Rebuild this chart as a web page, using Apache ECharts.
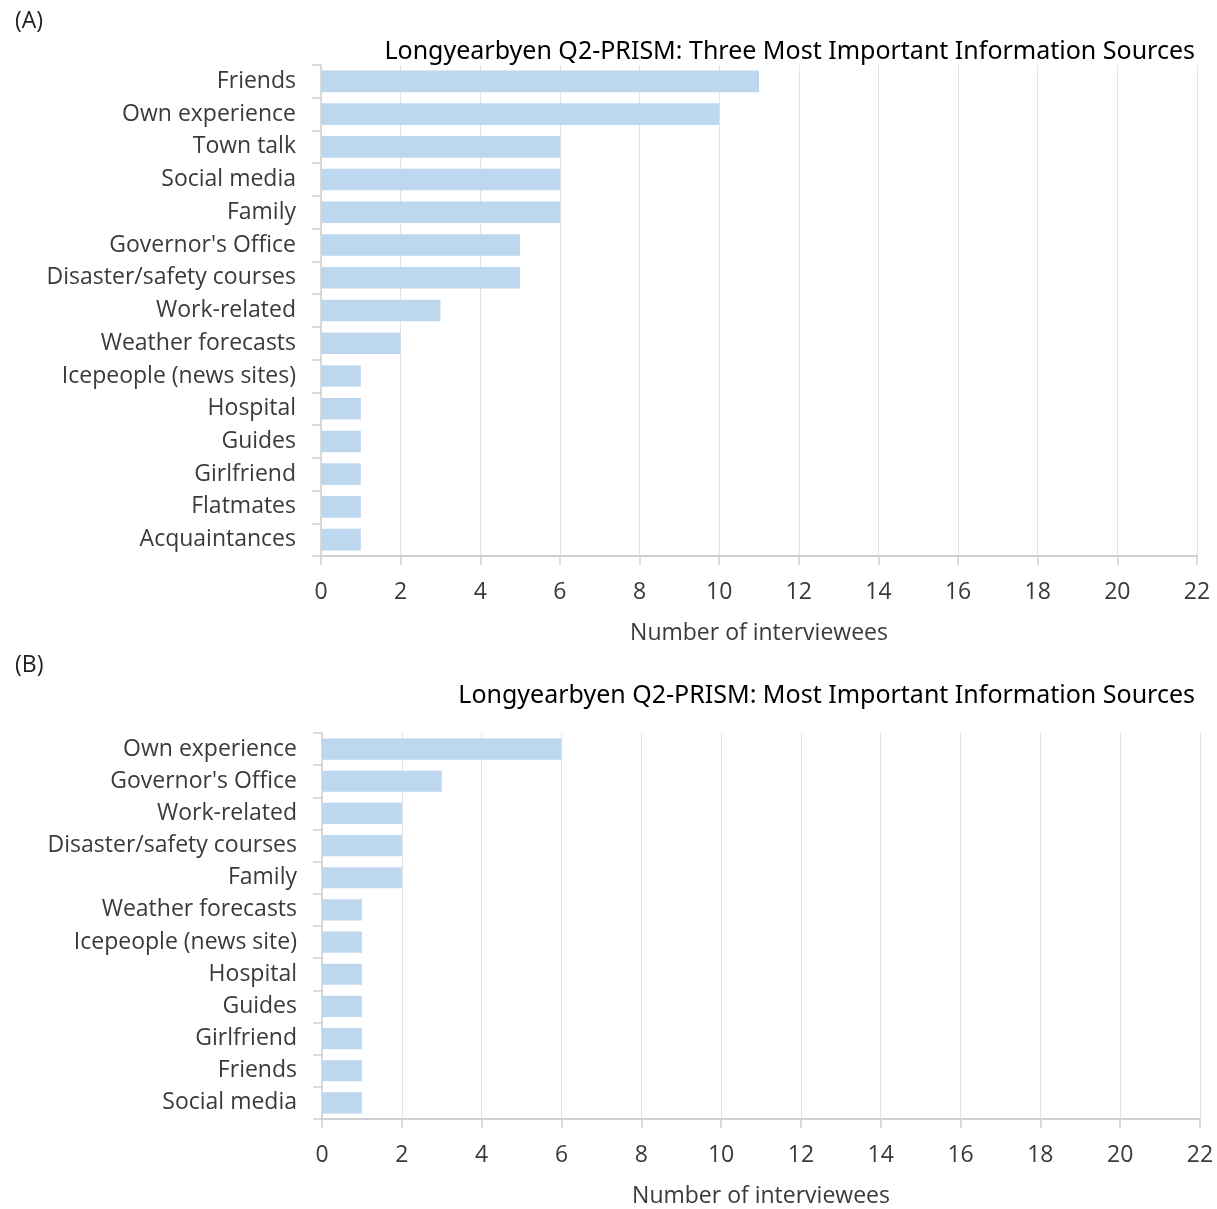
<!DOCTYPE html>
<html><head><meta charset="utf-8">
<script src="https://cdn.jsdelivr.net/npm/echarts@6/dist/echarts.min.js"></script>
<style>html,body{margin:0;padding:0;background:#fff}#c{width:1217px;height:1209px}</style>
</head><body><div id="c"></div>
<script>
const catsA = ["Friends","Own experience","Town talk","Social media","Family","Governor's Office","Disaster/safety courses","Work-related","Weather forecasts","Icepeople (news sites)","Hospital","Guides","Girlfriend","Flatmates","Acquaintances"];
const valsA = [11,10,6,6,6,5,5,3,2,1,1,1,1,1,1];
const catsB = ["Own experience","Governor's Office","Work-related","Disaster/safety courses","Family","Weather forecasts","Icepeople (news site)","Hospital","Guides","Girlfriend","Friends","Social media"];
const valsB = [6,3,2,2,2,1,1,1,1,1,1,1];
const titleA = "Longyearbyen Q2-PRISM: Three Most Important Information Sources";
const titleB = "Longyearbyen Q2-PRISM: Most Important Information Sources";
const xName = "Number of interviewees";

const FONT = "Open Sans";
const txt = '#3a3a3a';
const axisGray = '#d0d0d0';
function xAxis(idx){
  return {gridIndex: idx, type:'value', min:0, max:22, interval:2,
    name: xName, nameLocation:'middle', nameGap: 66,
    nameTextStyle:{fontFamily:FONT, fontSize:23, color:txt},
    axisLine:{show:true, lineStyle:{color:axisGray, width:2}},
    axisTick:{show:true, length:9, lineStyle:{color:axisGray, width:1.5}},
    axisLabel:{fontFamily:FONT, fontSize:23, color:txt, margin:25},
    splitLine:{show:true, lineStyle:{color:'#e3e3e3', width:1}}};
}
function yAxis(idx, cats){
  return {gridIndex: idx, type:'category', data: cats, inverse:true,
    axisLine:{show:true, lineStyle:{color:axisGray, width:1.5}},
    axisTick:{show:true, length:9, lineStyle:{color:axisGray, width:1.5}},
    axisLabel:{fontFamily:FONT, fontSize:23, color:txt, margin:25}};
}
const chart = echarts.init(document.getElementById('c'), null, {renderer:'canvas'});
chart.setOption({
  backgroundColor:'#fff',
  animation:false,
  title:[
    {text:'(A)', left:10, top:5, textStyle:{fontFamily:FONT, fontSize:23, fontWeight:'normal', color:'#222'}},
    {text:titleA, right:17, top:34, textStyle:{fontFamily:'Noto Sans', fontSize:25, fontWeight:'normal', color:'#000'}},
    {text:'(B)', left:10, top:649, textStyle:{fontFamily:FONT, fontSize:23, fontWeight:'normal', color:'#222'}},
    {text:titleB, right:17, top:678, textStyle:{fontFamily:'Noto Sans', fontSize:25, fontWeight:'normal', color:'#000'}}
  ],
  grid:[
    {left:321, right:20, top:65, height:491},
    {left:322, right:17, top:733, height:389}
  ],
  xAxis:[xAxis(0), xAxis(1)],
  yAxis:[yAxis(0, catsA), yAxis(1, catsB)],
  series:[
    {type:'bar', xAxisIndex:0, yAxisIndex:0, data:valsA, barCategoryGap:'34%', itemStyle:{color:'#bdd7ee'}},
    {type:'bar', xAxisIndex:1, yAxisIndex:1, data:valsB, barCategoryGap:'34%', itemStyle:{color:'#bdd7ee'}}
  ]
});
</script></body></html>
